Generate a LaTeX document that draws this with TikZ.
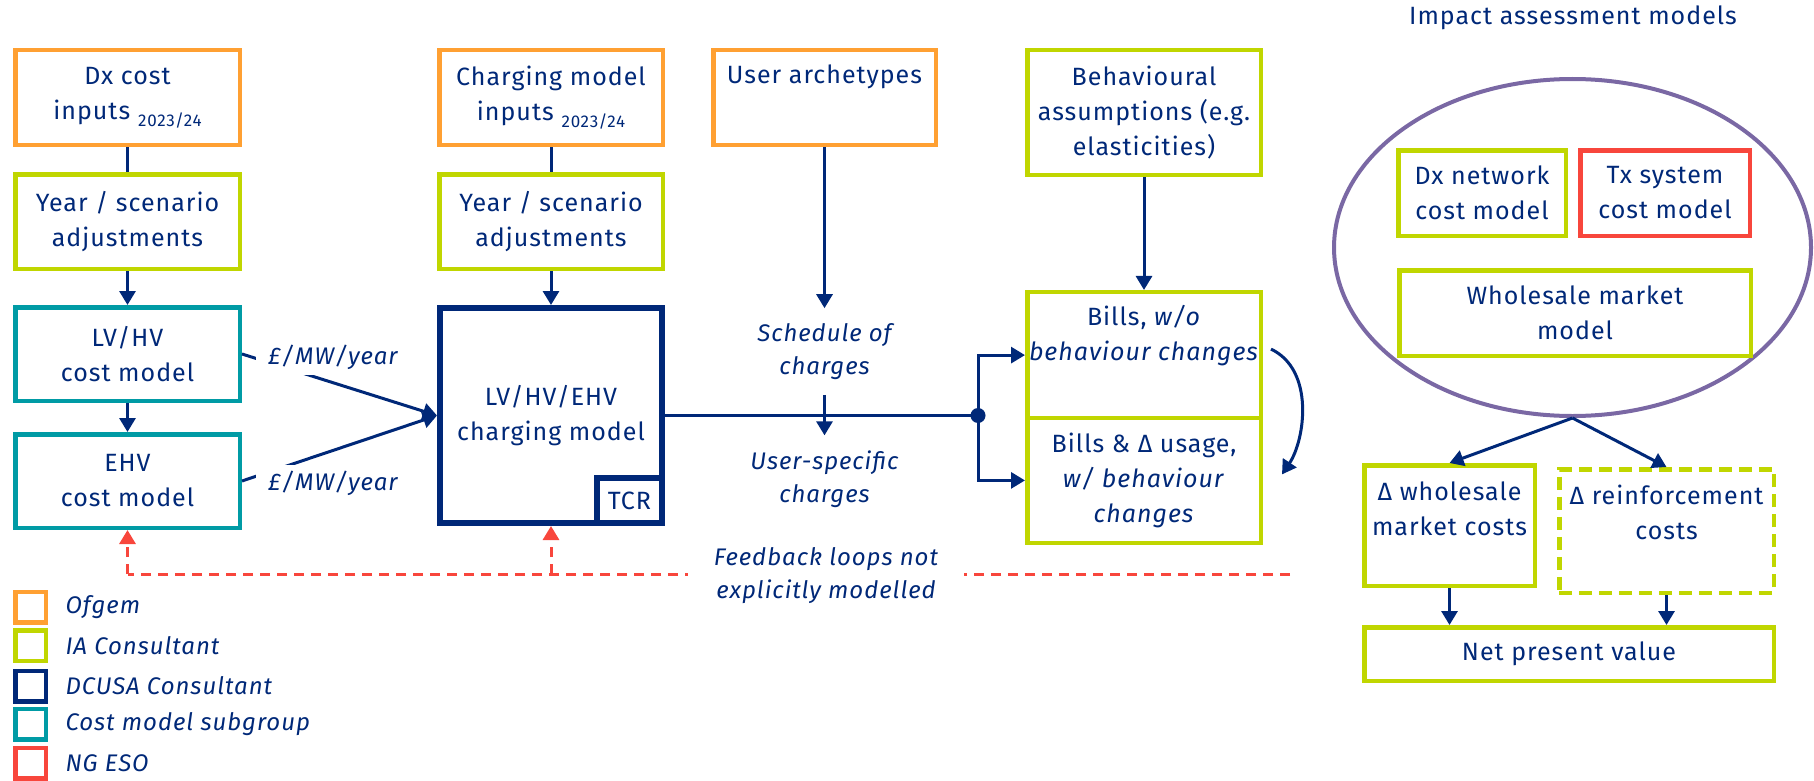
\documentclass[tikz,border=0pt]{standalone}
\usepackage{fontspec}
\setmainfont[LetterSpace=4]{Fira Sans}
\usetikzlibrary{shapes.geometric,arrows.meta}
\definecolor{cOrange}{RGB}{255,160,50}
\definecolor{cLime}{RGB}{192,214,0}
\definecolor{cNavy}{RGB}{0,40,120}
\definecolor{cTeal}{RGB}{0,155,165}
\definecolor{cRed}{RGB}{248,70,60}
\definecolor{cPurple}{RGB}{122,104,164}
\newcommand{\yr}{\hspace{8pt}\raisebox{-7pt}{\fontsize{17}{17}\selectfont 2023/24}}
\begin{document}
\begin{tikzpicture}[x=1pt,y=-1pt,
  every node/.style={text=cNavy, font=\fontsize{25}{35}\selectfont},
  box/.style={draw=#1, line width=4.5pt, align=center, inner sep=0pt},
  itl/.style={font=\fontsize{24}{33}\selectfont\itshape, align=center},
  arr/.style={draw=cNavy, line width=3pt, -{Triangle[width=16pt,length=14pt]}},
  plain/.style={draw=cNavy, line width=3pt},
  fb/.style={draw=cRed, line width=3pt, dash pattern=on 10pt off 7pt},
  fbarr/.style={fb, -{Triangle[width=16pt,length=14pt]}},
  legsq/.style={draw=#1, line width=4.5pt, minimum size=30.5, inner sep=0pt},
  legtxt/.style={font=\fontsize{24}{30}\selectfont\itshape, anchor=west}
]
\useasboundingbox (0,0) rectangle (1814,781);

% left column
\node[box=cOrange, minimum width=224.5, minimum height=94.5] (dxin) at (127.5,97.5) {Dx cost\\inputs\yr};
\node[box=cLime, minimum width=224.5, minimum height=94.5] (yr1) at (127.5,221.5) {Year / scenario\\adjustments};
\node[box=cTeal, minimum width=224.5, minimum height=93.5] (lvhv) at (127.5,354) {LV/HV\\cost model};
\node[box=cTeal, minimum width=224.5, minimum height=93.5] (ehv) at (127.5,481) {EHV\\cost model};

% second column
\node[box=cOrange, minimum width=223.5, minimum height=94.5] (chin) at (551,97.5) {Charging model\\inputs\yr};
\node[box=cLime, minimum width=223.5, minimum height=94.5] (yr2) at (551,221.5) {Year / scenario\\adjustments};
\node[box=cNavy, line width=6pt, minimum width=222, minimum height=215] (chm) at (551,415.5) {LV/HV/EHV\\charging model};
\node[box=cNavy, line width=6pt, minimum width=65, minimum height=45, anchor=south east] (tcr) at (chm.south east) {TCR};

% user archetypes
\node[box=cOrange, minimum width=222.5, minimum height=94.5] (ua) at (824.5,97.5) {};
\node (uat) at (824.5,77) {User archetypes};
\node[itl, inner ysep=15pt] (sched) at (824.5,351.5) {Schedule of\\charges};
\node[itl, inner ysep=15pt] (usp) at (824.5,479) {User-specific\\charges};

% behavioural and bills
\node[box=cLime, minimum width=233.5, minimum height=124.5] (beh) at (1144,112.5) {Behavioural\\assumptions (e.g.\\elasticities)};
\node[box=cLime, minimum width=233.5, minimum height=125.75] (billsA) at (1144,355.1) {};
\node[box=cLime, minimum width=233.5, minimum height=124.75] (billsB) at (1144,480.4) {Bills \& Δ usage,\\\textit{w/ behaviour}\\\textit{changes}};
\node[align=center] (billsAt) at (1144,335.5) {Bills, \textit{w/o}\\\textit{behaviour changes}};
\node[circle, fill=cNavy, inner sep=0pt, minimum size=15] (dot) at (978,415.5) {};

% impact assessment
\node (iat) at (1573,18) {Impact assessment models};
\node[draw=cPurple, line width=4pt, ellipse, minimum width=477, minimum height=337, inner sep=0pt] (ell) at (1572.5,247.5) {};
\node[box=cLime, minimum width=167.5, minimum height=85.5] (dxn) at (1482,193) {Dx network\\cost model};
\node[box=cRed, minimum width=169.5, minimum height=85.5] (txs) at (1665,193) {Tx system\\cost model};
\node[box=cLime, minimum width=351.5, minimum height=85.5] (wsm) at (1575,313) {Wholesale market\\model};
\node[box=cLime, minimum width=170.5, minimum height=120.5] (dwh) at (1449.5,525.5) {};
\node[box=cLime, dash pattern=on 13pt off 7pt, minimum width=214.5, minimum height=123.5] (drf) at (1666.5,531) {};
\node[align=center] (dwht) at (1449.5,508.5) {Δ wholesale\\market costs};
\node[align=center] (drft) at (1666.5,512) {Δ reinforcement\\costs};
\node[box=cLime, minimum width=409.5, minimum height=53.5] (npv) at (1569,654) {Net present value};

% connectors
\draw[plain] (dxin) -- (yr1);
\draw[arr] (yr1) -- (lvhv);
\draw[arr] (lvhv) -- (ehv);
\draw[plain] (chin) -- (yr2);
\draw[arr] (yr2) -- (chm);
\draw[arr] (lvhv.east) -- (chm.west);
\draw[arr] (ehv.east) -- (chm.west);
\node[itl, fill=white, inner xsep=12pt, inner ysep=6pt] (lab1) at (333,357) {£/MW/year};
\node[itl, fill=white, inner xsep=12pt, inner ysep=6pt] (lab2) at (333,483) {£/MW/year};
\draw[arr] (ua.south) -- (sched.north);
\draw[plain] (chm.east) -- (dot.center);
\draw[arr] (sched.south) -- (usp.north);
\draw[arr] (dot.center) |- (billsA.west);
\draw[arr] (dot.center) |- (billsB.west);
\draw[arr] (beh) -- (billsA);
\draw[arr] ([xshift=8pt,yshift=6pt]billsA.east) .. controls (1315,370) and (1305,440) .. ([xshift=19pt,yshift=6pt]billsB.east);
\draw[arr] (ell.south) -- (dwh.north);
\draw[arr] (ell.south) -- (drf.north);
\draw[arr] (dwh.south) -- (dwh.south |- npv.north);
\draw[arr] (drf.south) -- (drf.south |- npv.north);

% feedback
\coordinate (fbend) at (1290,574);
\draw[fb] (fbend) -- (fbend -| ehv.south);
\draw[fbarr] (fbend -| ehv.south) -- (ehv.south);
\draw[fbarr] (fbend -| chm.south) -- (chm.south);
\node[itl, fill=white, inner xsep=26pt, inner ysep=2pt] (fbt) at (826,576) {Feedback loops not\\explicitly modelled};

% legend
\node[legsq=cOrange] (l1) at (30.5,607) {};
\node[legsq=cLime] (l2) at (30.5,645.5) {};
\node[legsq=cNavy] (l3) at (30.5,686) {};
\node[legsq=cTeal] (l4) at (30.5,724) {};
\node[legsq=cRed] (l5) at (30.5,763) {};
\node[legtxt] (t1) at (62,607) {Ofgem};
\node[legtxt] (t2) at (62,645.5) {IA Consultant};
\node[legtxt] (t3) at (62,686) {DCUSA Consultant};
\node[legtxt] (t4) at (62,724) {Cost model subgroup};
\node[legtxt] (t5) at (62,763) {NG ESO};
\end{tikzpicture}
\end{document}
